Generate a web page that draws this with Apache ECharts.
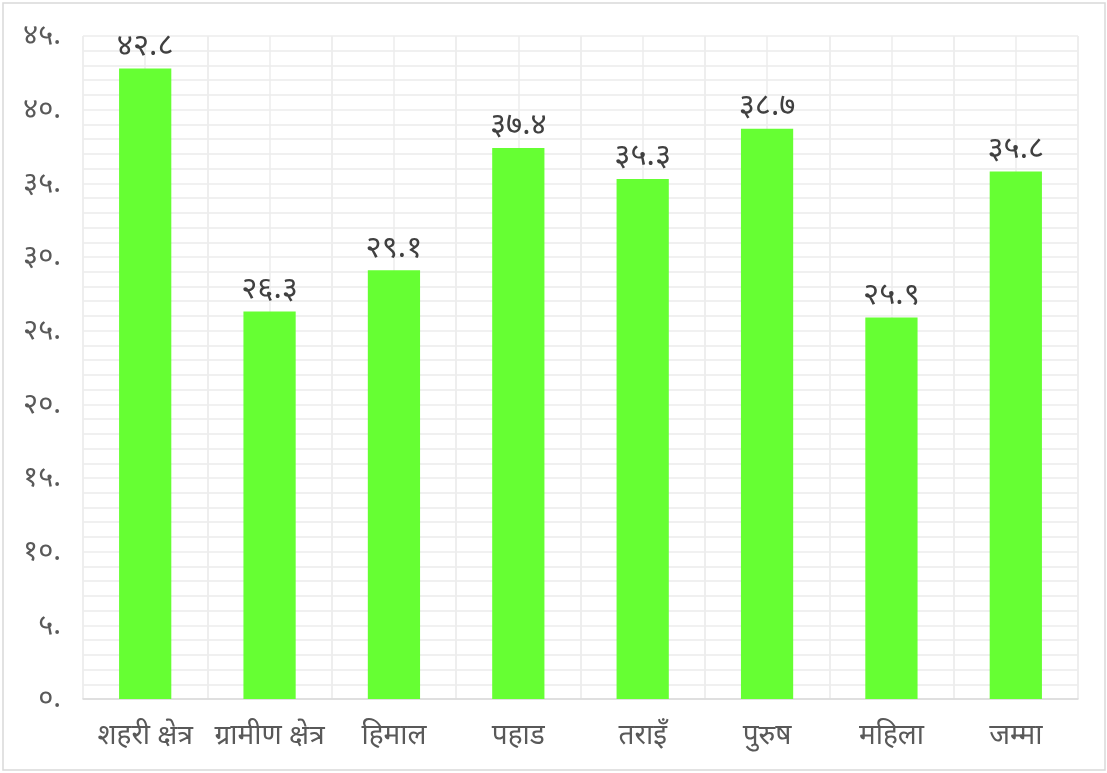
<!DOCTYPE html>
<html>
<head>
<meta charset="utf-8">
<script src="https://cdn.jsdelivr.net/npm/echarts@6/dist/echarts.min.js"></script>
<style>
  html, body { margin: 0; padding: 0; background: #fff; }
  #chart { width: 1107px; height: 773px; }
</style>
</head>
<body>
<div id="chart"></div>
<script>
const categories = ["शहरी क्षेत्र", "ग्रामीण क्षेत्र", "हिमाल", "पहाड", "तराइँ", "पुरुष", "महिला", "जम्मा"];
const values = [42.8, 26.3, 29.1, 37.4, 35.3, 38.7, 25.9, 35.8];
const yTicks = [0, 5, 10, 15, 20, 25, 30, 35, 40, 45];

const devDigits = "०१२३४५६७८९";
function toDev(str) {
  return String(str).replace(/[0-9]/g, d => devDigits[+d]);
}

// half-category slots, only used to draw the vertical grid
const halfSlots = categories.flatMap(c => [c, c + " "]);

const chart = echarts.init(document.getElementById("chart"));

const option = {
  backgroundColor: "#fff",
  animation: false,
  textStyle: { fontFamily: "Noto Sans, sans-serif" },
  graphic: [
    {
      type: "rect",
      shape: { x: 3, y: 3, width: 1102, height: 767 },
      style: { fill: "none", stroke: "#d9d9d9", lineWidth: 1.5 },
      silent: true,
    },
  ],
  grid: { left: 83, right: 29, top: 36, bottom: 74 },
  xAxis: [
    {
      type: "category",
      data: categories,
      axisLine: { lineStyle: { color: "#d9d9d9", width: 1.5 } },
      axisTick: { show: false },
      axisLabel: { color: "#595959", fontSize: 28, margin: 23, interval: 0 },
      splitLine: { show: true, lineStyle: { color: "#ececec", width: 1.5 } },
    },
    {
      type: "category",
      data: halfSlots,
      position: "bottom",
      axisLine: { show: false },
      axisTick: { show: false },
      axisLabel: { show: false },
      splitLine: { show: true, interval: 0, lineStyle: { color: "#ececec", width: 1.5 } },
    },
  ],
  yAxis: {
    type: "value",
    min: yTicks[0],
    max: yTicks[yTicks.length - 1],
    interval: 5,
    axisLine: { show: false },
    axisTick: { show: false },
    axisLabel: {
      color: "#595959",
      fontSize: 29,
      margin: 22,
      formatter: v => toDev(v) + ".",
    },
    splitLine: { lineStyle: { color: "#ececec", width: 1.5 } },
    minorTick: { show: false, splitNumber: 5 },
    minorSplitLine: { show: true, lineStyle: { color: "#ececec", width: 1.5 } },
  },
  series: [
    {
      type: "bar",
      data: values,
      xAxisIndex: 0,
      barWidth: "42%",
      itemStyle: { color: "#66ff33" },
      label: {
        show: true,
        position: "top",
        distance: 7,
        color: "#404040",
        fontSize: 31,
        formatter: p => toDev(p.value.toFixed(1)),
      },
    },
  ],
};

chart.setOption(option);
</script>
</body>
</html>
